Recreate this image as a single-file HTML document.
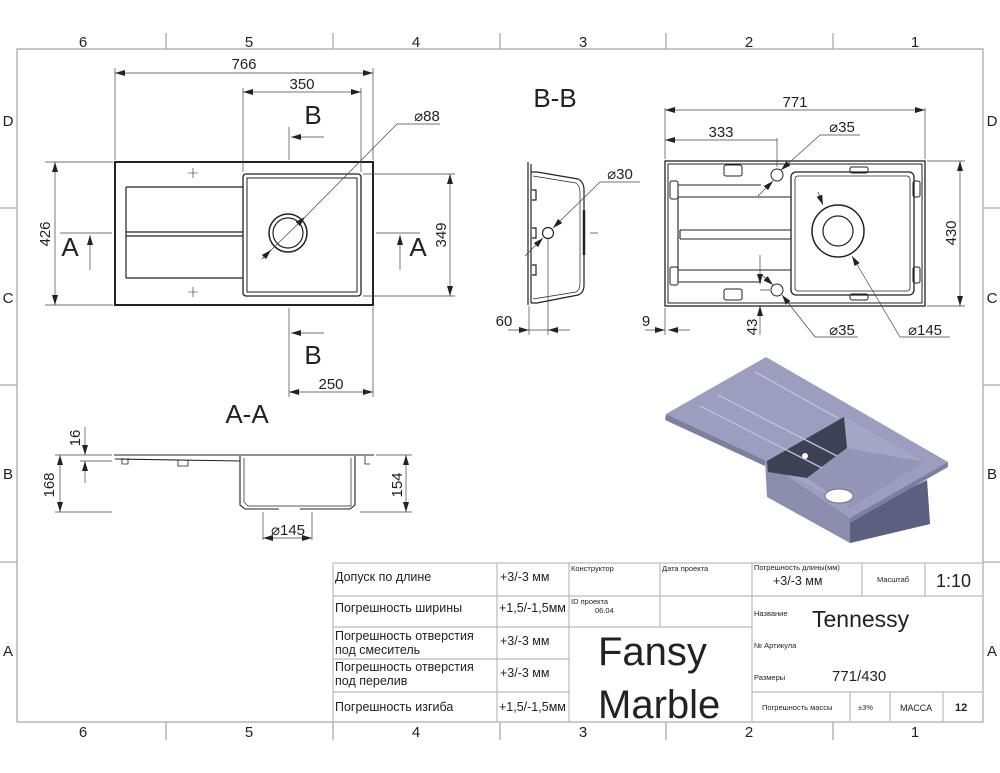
<!DOCTYPE html>
<html><head><meta charset="utf-8"><style>
body{margin:0;background:#fff;}
svg{display:block;font-family:"Liberation Sans",sans-serif;}
.t{font-family:"Liberation Sans","DejaVu Sans",sans-serif;fill:#222;}
</style></head><body>
<svg width="1000" height="773" viewBox="0 0 1000 773" xmlns="http://www.w3.org/2000/svg">
<defs>
<marker id="ar" viewBox="0 0 10 6" refX="10" refY="3" markerWidth="10" markerHeight="6" orient="auto-start-reverse" markerUnits="userSpaceOnUse"><path d="M0,0 L10,3 L0,6 z" fill="#222"/></marker>
</defs>
<!-- frame -->
<g stroke="#aaa" stroke-width="1.3" fill="none">
<rect x="17" y="49" width="966" height="673"/>
<path d="M166 33V49M333 33V49M500 33V49M666 33V49M833 33V49M166 722V740M333 722V740M500 722V740M666 722V740M833 722V740M0 208H17M0 385H17M0 562H17M983 208H1000M983 385H1000M983 562H1000"/>
</g>
<g class="t" font-size="15" text-anchor="middle">
<text x="83" y="47">6</text><text x="249" y="47">5</text><text x="416" y="47">4</text><text x="583" y="47">3</text><text x="749" y="47">2</text><text x="915" y="47">1</text>
<text x="83" y="737">6</text><text x="249" y="737">5</text><text x="416" y="737">4</text><text x="583" y="737">3</text><text x="749" y="737">2</text><text x="915" y="737">1</text>
<text x="8" y="126">D</text><text x="8" y="303">C</text><text x="8" y="479">B</text><text x="8" y="656">A</text>
<text x="992" y="126">D</text><text x="992" y="303">C</text><text x="992" y="479">B</text><text x="992" y="656">A</text>
</g>

<!-- TOP VIEW left -->
<g stroke="#222" fill="none">
<rect x="115" y="162" width="258" height="143" stroke-width="2"/>
<rect x="243" y="174" width="118" height="122" stroke-width="1.3" rx="3"/>
<rect x="247" y="178" width="110" height="114" stroke-width="1"/>
<path d="M126 187H243M126 278H243M126 187V278M126 232H243M126 236H243" stroke-width="1.2"/>
<circle cx="288" cy="233" r="19" stroke-width="1.5"/><circle cx="288" cy="233" r="15" stroke-width="1.2"/>
<path d="M188 173h10M193 168v10M188 292h10M193 287v10" stroke-width=".6"/>
</g>
<g stroke="#444" stroke-width=".7" fill="none">
<path d="M115 160V68M373 160V68M243 172V88M361 172V88M113 162H45M113 305H45M363 174H455M363 296H455M289 308V397M373 307V397M289 127V160M289 308V345"/>
<line x1="115" y1="73" x2="373" y2="73" marker-start="url(#ar)" marker-end="url(#ar)"/>
<line x1="243" y1="92" x2="361" y2="92" marker-start="url(#ar)" marker-end="url(#ar)"/>
<line x1="55" y1="162" x2="55" y2="305" marker-start="url(#ar)" marker-end="url(#ar)"/>
<line x1="450" y1="174" x2="450" y2="296" marker-start="url(#ar)" marker-end="url(#ar)"/>
<line x1="289" y1="392" x2="373" y2="392" marker-start="url(#ar)" marker-end="url(#ar)"/>
<line x1="262" y1="259" x2="305" y2="217" marker-end="url(#ar)"/><line x1="305" y1="217" x2="397" y2="124"/><line x1="397" y1="124" x2="440" y2="124"/>
<line x1="271" y1="250" x2="262" y2="259" marker-start="url(#ar)"/>
<path d="M60 233H112M376 233H420"/>
<line x1="90" y1="270" x2="90" y2="235" marker-end="url(#ar)"/>
<line x1="400" y1="270" x2="400" y2="235" marker-end="url(#ar)"/>
<line x1="324" y1="137" x2="291" y2="137" marker-end="url(#ar)"/>
<line x1="324" y1="333" x2="291" y2="333" marker-end="url(#ar)"/>
</g>
<g class="t" font-size="15" text-anchor="middle">
<text x="244" y="69">766</text><text x="302" y="89">350</text><text x="331" y="389">250</text>
<text x="427" y="121">⌀88</text>
<text x="50" y="234" transform="rotate(-90 50 234)">426</text>
<text x="446" y="235" transform="rotate(-90 446 235)">349</text>
<text x="313" y="124" font-size="26">B</text><text x="313" y="364" font-size="26">B</text>
<text x="70" y="256" font-size="26">A</text><text x="418" y="256" font-size="26">A</text>
<text x="555" y="107" font-size="26">B-B</text>
<text x="247" y="423" font-size="26">A-A</text>
</g>

<!-- B-B side -->
<g stroke="#222" fill="none" stroke-width="1.2">
<path d="M528 162V305M531 164V303"/>
<path d="M531 172H537L578 179Q584 182 584 190V285Q584 293 578 295L537 303H531"/>
<path d="M533 176L576 183Q580 186 580 192V283Q580 290 576 292L533 299" stroke-width=".7"/>
<path d="M532 190h4v10h-4M532 228h4v10h-4M532 265h4v10h-4"/>
<path d="M584 210v45" stroke-width="2.5"/>
<circle cx="548" cy="233" r="5.5"/>
</g>
<g stroke="#444" stroke-width=".7" fill="none">
<path d="M529 306V335M548 239V335M590 233h8"/>
<line x1="508" y1="330" x2="529" y2="330" marker-end="url(#ar)"/><line x1="570" y1="330" x2="548" y2="330" marker-end="url(#ar)"/>
<line x1="529" y1="330" x2="548" y2="330"/>
<line x1="525" y1="256" x2="543" y2="238" marker-end="url(#ar)"/>
<line x1="600" y1="182" x2="553" y2="228" marker-end="url(#ar)"/><line x1="600" y1="182" x2="640" y2="182"/>
</g>
<g class="t" font-size="15" text-anchor="middle"><text x="504" y="326">60</text><text x="620" y="179">⌀30</text></g>

<!-- TOP VIEW right -->
<g stroke="#222" fill="none">
<rect x="665" y="161" width="260" height="145" stroke-width="1.3"/>
<rect x="668" y="164" width="254" height="139" stroke-width="1"/>
<rect x="791" y="172" width="123" height="123" rx="5" stroke-width="1.3"/>
<rect x="795" y="176" width="115" height="115" rx="3" stroke-width=".8"/>
<path d="M678 185H761M678 197H791M678 270H791M678 282H761M678 185V282M680 230H791M680 239H791M680 230V239" stroke-width="1.1"/>
<circle cx="838" cy="231" r="26" stroke-width="1.5"/><circle cx="838" cy="231" r="15" stroke-width="1.2"/>
<circle cx="777" cy="175" r="6"/><circle cx="777" cy="290" r="6"/>
<rect x="724" y="165" width="18" height="11" rx="2"/><rect x="724" y="289" width="18" height="11" rx="2"/>
<rect x="850" y="167" width="18" height="6" rx="2"/><rect x="850" y="294" width="18" height="6" rx="2"/>
<rect x="670" y="181" width="8" height="18" rx="2"/><rect x="670" y="267" width="8" height="18" rx="2"/>
<rect x="913" y="181" width="7" height="16" rx="2"/><rect x="913" y="267" width="7" height="16" rx="2"/>
</g>
<g stroke="#444" stroke-width=".7" fill="none">
<path d="M665 159V108M925 159V108M777 167V138M927 161H965M927 306H965M665 308V335M760 290H770"/>
<line x1="665" y1="110" x2="925" y2="110" marker-start="url(#ar)" marker-end="url(#ar)"/>
<line x1="665" y1="140" x2="777" y2="140" marker-start="url(#ar)"/>
<line x1="960" y1="161" x2="960" y2="306" marker-start="url(#ar)" marker-end="url(#ar)"/>
<line x1="645" y1="330" x2="665" y2="330" marker-end="url(#ar)"/><line x1="690" y1="330" x2="668" y2="330" marker-end="url(#ar)"/>
<line x1="760" y1="255" x2="760" y2="284" marker-end="url(#ar)"/><line x1="760" y1="335" x2="760" y2="306" marker-end="url(#ar)"/>
<line x1="758" y1="196" x2="773" y2="181" marker-end="url(#ar)"/>
<line x1="820" y1="135" x2="781" y2="170" marker-end="url(#ar)"/><line x1="820" y1="135" x2="860" y2="135"/>
<line x1="762" y1="275" x2="773" y2="285" marker-end="url(#ar)"/>
<line x1="815" y1="337" x2="782" y2="295" marker-end="url(#ar)"/><line x1="815" y1="337" x2="858" y2="337"/>
<line x1="818" y1="192" x2="823" y2="205" marker-end="url(#ar)"/>
<line x1="900" y1="337" x2="852" y2="256" marker-end="url(#ar)"/><line x1="900" y1="337" x2="950" y2="337"/>
</g>
<g class="t" font-size="15" text-anchor="middle">
<text x="795" y="107">771</text><text x="721" y="137">333</text>
<text x="842" y="132">⌀35</text><text x="842" y="335">⌀35</text><text x="925" y="335">⌀145</text>
<text x="646" y="326">9</text>
<text x="956" y="233" transform="rotate(-90 956 233)">430</text>
<text x="757" y="327" transform="rotate(-90 757 327)">43</text>
</g>

<!-- A-A section -->
<g stroke="#222" fill="none" stroke-width="1.1">
<path d="M114 455H374M115 459L240 461M240 456V505L245 509H279M300 509H350L355 505V456"/>
<path d="M244 458V502L248 506H351V458" stroke-width=".7"/>
<path d="M122 458v6h6v-6M178 460v6h10v-6M365 456v8h5" stroke-width=".8"/>
</g>
<g stroke="#444" stroke-width=".7" fill="none">
<path d="M112 455H55M112 461H80M112 512H55M360 512H412M376 455H412M263 512V540M312 512V540"/>
<line x1="60" y1="455" x2="60" y2="512" marker-start="url(#ar)" marker-end="url(#ar)"/>
<line x1="85" y1="427" x2="85" y2="455" marker-end="url(#ar)"/><line x1="85" y1="483" x2="85" y2="461" marker-end="url(#ar)"/>
<line x1="406" y1="455" x2="406" y2="512" marker-start="url(#ar)" marker-end="url(#ar)"/>
<line x1="263" y1="538" x2="312" y2="538" marker-start="url(#ar)" marker-end="url(#ar)"/>
</g>
<g class="t" font-size="15" text-anchor="middle">
<text x="54" y="485" transform="rotate(-90 54 485)">168</text>
<text x="80" y="438" transform="rotate(-90 80 438)">16</text>
<text x="402" y="485" transform="rotate(-90 402 485)">154</text>
<text x="288" y="535">⌀145</text>
</g>

<!-- 3D render -->
<g>
<!-- basin body -->
<polygon points="765,460 767,497 850,543 930,524 927,480 850,518" fill="#8a8dac"/>
<polygon points="850,518 927,480 930,524 850,543" fill="#5c6080"/>
<!-- top surface -->
<polygon points="666,414 766,357 948,462 940,470 850,518 765,460" fill="#9b9ebf"/>
<polygon points="666,414 665,420 765,466 765,460" fill="#7c809f"/>
<polygon points="948,462 948,467 850,523 850,518" fill="#7c809f"/>
<!-- basin opening -->
<polygon points="767,461 844,417 925,462 850,508" fill="#a3a6c4"/>
<polygon points="767,461 844,417 847,448 807,478 768,472" fill="#3e4054"/>
<polygon points="847,448 925,462 850,508 807,478" fill="#9396b7"/>
<ellipse cx="839" cy="496" rx="14" ry="7" fill="#fff" stroke="#6c6f8a"/>
<circle cx="805" cy="456" r="3" fill="#fff"/>
<path d="M700 406L822 468M718 395L837 456M755 372L838 418" stroke="#bfc1d8" stroke-width="1.4"/>
</g>

<!-- title block -->
<g stroke="#bbb" stroke-width="1.2" fill="none">
<rect x="333" y="563" width="650" height="159"/>
<path d="M333 596H569M333 627H569M333 659H569M333 692H569M497 563V722M569 563V722M752 563V722M569 596H752M569 627H752M660 563V627M752 596H983M752 692H983M862 563V596M925 563V596M850 692V722M890 692V722M943 692V722"/>
</g>
<g class="t" font-family="'Liberation Sans','DejaVu Sans',sans-serif">
<g font-size="12.5">
<text x="335" y="581">Допуск по длине</text>
<text x="335" y="612">Погрешность ширины</text>
<text x="335" y="640">Погрешность отверстия</text><text x="335" y="654">под смеситель</text>
<text x="335" y="671">Погрешность отверстия</text><text x="335" y="685">под перелив</text>
<text x="335" y="711">Погрешность изгиба</text>
<text x="500" y="581">+3/-3 мм</text><text x="499" y="612">+1,5/-1,5мм</text><text x="500" y="645">+3/-3 мм</text><text x="500" y="677">+3/-3 мм</text><text x="499" y="711">+1,5/-1,5мм</text>
<text x="773" y="585">+3/-3 мм</text>
</g>
<g font-size="7.5">
<text x="571" y="571">Конструктор</text><text x="662" y="571">Дата проекта</text>
<text x="571" y="604">ID проекта</text><text x="595" y="613">06.04</text>
<text x="754" y="570">Погрешность длины(мм)</text><text x="877" y="582">Масштаб</text>
<text x="754" y="616">Название</text><text x="754" y="648">№ Артикула</text><text x="754" y="680">Размеры</text>
<text x="762" y="710">Погрешность массы</text><text x="858" y="710">±3%</text>
</g>
<text x="900" y="711" font-size="9">МАССА</text><text x="955" y="711" font-size="11" font-weight="bold">12</text>
<text x="936" y="587" font-size="18">1:10</text>
<text x="812" y="627" font-size="23">Tennessy</text>
<text x="832" y="681" font-size="15">771/430</text>
<text x="598" y="665" font-size="40">Fansy</text>
<text x="598" y="718" font-size="40">Marble</text>
</g>
</svg>
</body></html>
